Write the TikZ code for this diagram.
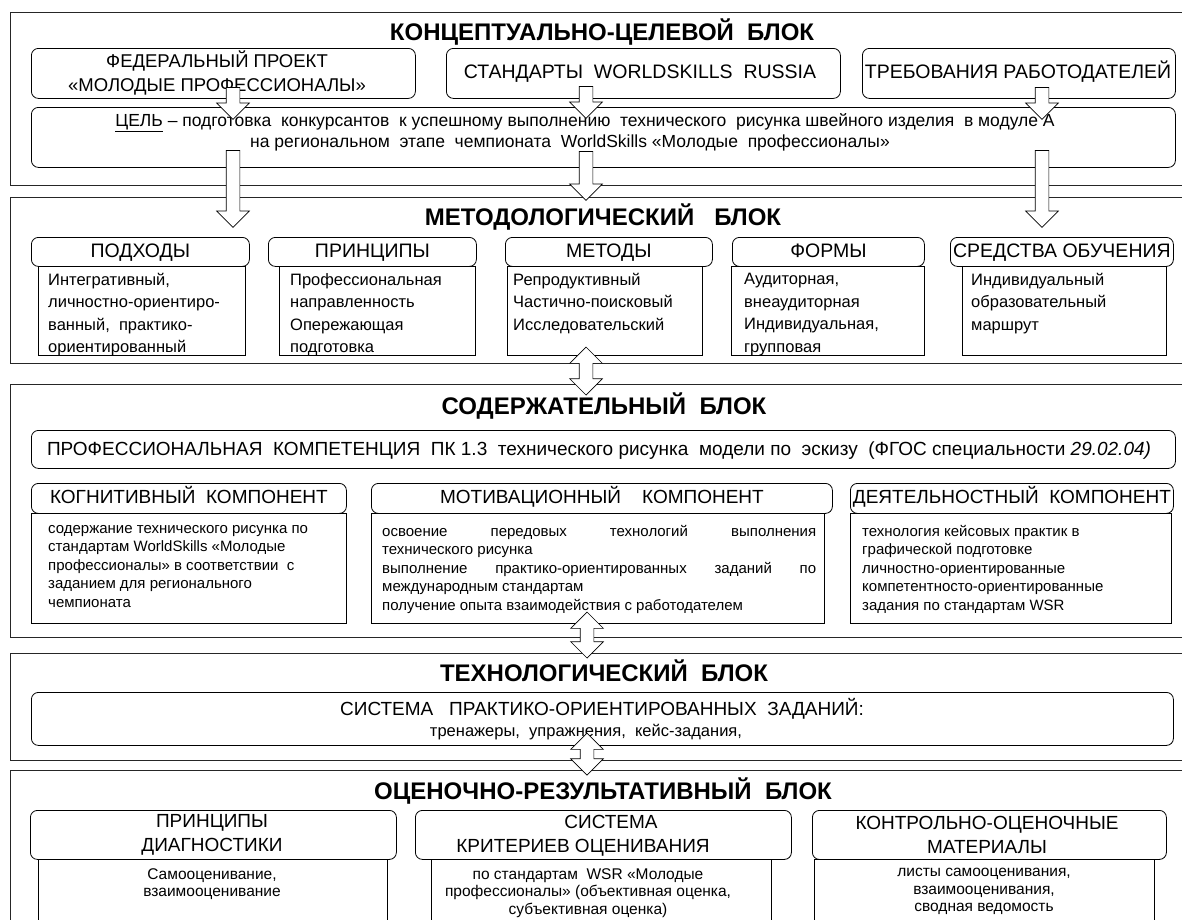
\documentclass[tikz,border=0pt]{standalone}
\usepackage{fontspec}
\setmainfont{Liberation Sans}
\usetikzlibrary{shapes.arrows}
\newcommand\bx[7]{\node[#2, anchor=north west, minimum width={#5-#3}, minimum height={#6-#4}, inner sep=0pt] (#1) at (#3,#4) {#7};}
\newcommand\shaft{\rule{0pt}{13pt}}
\tikzset{
 blk/.style={draw=black!85, line width=1.4pt},
 rbox/.style={draw, line width=0.8pt, rounded corners=7pt, align=center},
 sbox/.style={draw, line width=0.8pt},
 ttl/.style={font=\fontsize{24}{26}\bfseries\selectfont, inner sep=0pt, text height=17pt, text depth=0pt},
 hdr/.style={font=\fontsize{19.5}{24}\selectfont, inner sep=0pt, text height=14pt, text depth=3pt},
 hdrm/.style={font=\fontsize{19}{24}\selectfont, inner sep=0pt, align=center},
 gtxt/.style={font=\fontsize{17.5}{20}\selectfont, inner sep=0pt, text height=12.5pt, text depth=3.5pt},
 btxt/.style={font=\fontsize{16.5}{22.5}\selectfont, inner sep=0pt, align=left, anchor=north west},
 ctxt/.style={font=\fontsize{15}{18.5}\selectfont, inner sep=0pt, align=left, anchor=north west},
 etxt/.style={font=\fontsize{15.5}{17.5}\selectfont, inner sep=0pt, align=center, anchor=north},
 sarr/.style={single arrow, draw, fill=white, line width=0.7pt, rotate=-90, minimum width=32pt, single arrow head extend=9.5pt, inner sep=0pt, single arrow tip angle=90},
 darr/.style={double arrow, draw, fill=white, line width=0.7pt, rotate=-90, minimum width=32pt, double arrow head extend=9.5pt, inner sep=0pt, double arrow tip angle=90},
}
\begin{document}
\begin{tikzpicture}[x=1pt,y=-1pt]
\useasboundingbox (0,0) rectangle (1182,919);
\clip (0,0) rectangle (1182,919);
\fill[white] (0,0) rectangle (1182,919);
% blocks
\bx{B1}{blk}{10}{12}{1195}{185}{}
\bx{B2}{blk}{10}{197}{1195}{363}{}
\bx{B3}{blk}{10}{384}{1195}{637}{}
\bx{B4}{blk}{10}{653}{1195}{760}{}
\bx{B5}{blk}{10}{770}{1195}{935}{}
% titles
\node[ttl] (T1) at (602,32) {КОНЦЕПТУАЛЬНО-ЦЕЛЕВОЙ\ \ БЛОК};
\node[ttl] (T2) at (603,217) {МЕТОДОЛОГИЧЕСКИЙ\ \ \ БЛОК};
\node[ttl] (T3) at (604,406) {СОДЕРЖАТЕЛЬНЫЙ\ \ БЛОК};
\node[ttl] (T4) at (604,673) {ТЕХНОЛОГИЧЕСКИЙ\ \ БЛОК};
\node[ttl] (T5) at (603,791) {ОЦЕНОЧНО-РЕЗУЛЬТАТИВНЫЙ\ \ БЛОК};
% block 1
\bx{fed}{rbox}{31}{48}{415}{98}{}
\node[hdrm, font=\fontsize{18.5}{23.5}\selectfont] (fedt) at (217,73) {ФЕДЕРАЛЬНЫЙ ПРОЕКТ\\«МОЛОДЫЕ ПРОФЕССИОНАЛЫ»};
\bx{std}{rbox}{446}{48}{840}{98}{}
\node[hdr] (stdt) at (640,73) {СТАНДАРТЫ\ \ WORLDSKILLS\ \ RUSSIA};
\bx{req}{rbox}{862}{48}{1175}{98}{}
\node[hdr] (reqt) at (1018,73) {ТРЕБОВАНИЯ РАБОТОДАТЕЛЕЙ};
\bx{goal}{rbox}{31}{107}{1175}{167}{}
\node[gtxt] (g1) at (585,122) {\underline{ЦЕЛЬ} – подготовка\ \ конкурсантов\ \ к успешному выполнению\ \ технического\ \ рисунка швейного изделия\ \ в модуле А};
\node[gtxt] (g2) at (570,143) {на региональном\ \ этапе\ \ чемпионата\ \ WorldSkills «Молодые\ \ профессионалы»};
% block 2
\bx{h1}{rbox}{31}{237}{249}{266}{}
\bx{h2}{rbox}{268}{237}{476}{266}{}
\bx{h3}{rbox}{505}{237}{712}{266}{}
\bx{h4}{rbox}{732}{237}{924}{266}{}
\bx{h5}{rbox}{950}{237}{1173}{266}{}
\node[hdr] (h1t) at (h1) {ПОДХОДЫ};
\node[hdr] (h2t) at (h2) {ПРИНЦИПЫ};
\node[hdr] (h3t) at (h3) {МЕТОДЫ};
\node[hdr] (h4t) at (h4) {ФОРМЫ};
\node[hdr] (h5t) at (h5) {СРЕДСТВА ОБУЧЕНИЯ};
\bx{b1}{sbox}{38}{266}{245}{355}{}
\bx{b2}{sbox}{279}{266}{475}{355}{}
\bx{b3}{sbox}{507}{266}{702}{355}{}
\bx{b4}{sbox}{731}{266}{924}{355}{}
\bx{b5}{sbox}{962}{266}{1166}{355}{}
\node[btxt] (bt1) at (48,273) {Интегративный,\\личностно-ориентиро-\\ванный,\ \ практико-\\ориентированный};
\node[btxt] (bt2) at (290,273) {Профессиональная\\направленность\\Опережающая\\подготовка};
\node[btxt] (bt3) at (513,273) {Репродуктивный\\Частично-поисковый\\Исследовательский};
\node[btxt] (bt4) at (744,273) {Аудиторная,\\внеаудиторная\\Индивидуальная,\\групповая};
\node[btxt] (bt5) at (971,273) {Индивидуальный\\образовательный\\маршрут};
% block 3
\bx{pk}{rbox}{31}{430}{1175}{468}{}
\node[hdr, font=\fontsize{19}{24}\selectfont] (pkt) at (599,450) {ПРОФЕССИОНАЛЬНАЯ\ \ КОМПЕТЕНЦИЯ\ \ ПК 1.3\ \ технического рисунка\ \ модели по\ \ эскизу\ \ (ФГОС специальности \textit{29.02.04)}};
\bx{c1}{rbox}{31}{483}{346}{513}{}
\bx{c2}{rbox}{371}{483}{832}{513}{}
\bx{c3}{rbox}{850}{483}{1173}{513}{}
\node[hdr, font=\fontsize{19}{24}\selectfont] (c1t) at (c1) {КОГНИТИВНЫЙ\ \ КОМПОНЕНТ};
\node[hdr, font=\fontsize{19}{24}\selectfont] (c2t) at (c2) {МОТИВАЦИОННЫЙ\ \ \ \ КОМПОНЕНТ};
\node[hdr, font=\fontsize{19}{24}\selectfont] (c3t) at (c3) {ДЕЯТЕЛЬНОСТНЫЙ\ \ КОМПОНЕНТ};
\bx{cb1}{sbox}{31}{513}{346}{623}{}
\bx{cb2}{sbox}{371}{513}{824}{623}{}
\bx{cb3}{sbox}{850}{513}{1171}{623}{}
\node[ctxt] (ct1) at (48,525) {содержание технического рисунка по\\стандартам WorldSkills «Молодые\\профессионалы» в соответствии\ \ с\\заданием для регионального\\чемпионата};
\node[ctxt] (ct2) at (382,525) {\makebox[434pt][s]{освоение передовых технологий выполнения}\\технического рисунка\\\makebox[434pt][s]{выполнение практико-ориентированных заданий по}\\международным стандартам\\получение опыта взаимодействия с работодателем};
\node[ctxt] (ct3) at (862,525) {технология кейсовых практик в\\графической подготовке\\личностно-ориентированные\\компетентносто-ориентированные\\задания по стандартам WSR};
% block 4
\bx{tech}{rbox}{31}{692}{1173}{745}{}
\node[hdr, font=\fontsize{19}{24}\selectfont] (tt1) at (602,710) {СИСТЕМА\ \ \ ПРАКТИКО-ОРИЕНТИРОВАННЫХ\ \ ЗАДАНИЙ:};
\node[gtxt, font=\fontsize{16.5}{20}\selectfont] (tt2) at (586,732) {тренажеры,\ \ упражнения,\ \ кейс-задания,};
% block 5
\bx{e1}{rbox}{30}{810}{396}{859}{}
\bx{e2}{rbox}{415}{810}{791}{859}{}
\bx{e3}{rbox}{812}{810}{1166}{859}{}
\node[hdrm] (e1t) at (212,835) {ПРИНЦИПЫ\\ДИАГНОСТИКИ};
\node[hdr, font=\fontsize{19}{24}\selectfont] (e2a) at (611,823) {СИСТЕМА};
\node[hdr, font=\fontsize{19}{24}\selectfont] (e2b) at (583,847) {КРИТЕРИЕВ ОЦЕНИВАНИЯ};
\node[hdrm] (e3t) at (987,835) {КОНТРОЛЬНО-ОЦЕНОЧНЫЕ\\МАТЕРИАЛЫ};
\bx{eb1}{sbox}{38}{859}{387}{935}{}
\bx{eb2}{sbox}{431}{859}{771}{935}{}
\bx{eb3}{sbox}{814}{859}{1154}{935}{}
\node[etxt] (et1) at (212,868) {Самооценивание,\\взаимооценивание};
\node[etxt] (et2) at (588,868) {по стандартам\ \ WSR «Молодые\\профессионалы» (объективная оценка,\\субъективная оценка)};
\node[etxt] (et3) at (984,868) {листы самооценивания,\\взаимооценивания,\\сводная ведомость};
% arrows
\node[sarr, minimum height=32pt] (a1) at (233,100) {\shaft};
\node[sarr, minimum height=32pt] (a2) at (586,99) {\shaft};
\node[sarr, minimum height=32pt] (a3) at (1042,100) {\shaft};
\node[sarr, minimum height=77pt] (a4) at (233,185.5) {\shaft};
\node[sarr, minimum height=49pt] (a5) at (586,172.5) {\shaft};
\node[sarr, minimum height=77pt] (a6) at (1042,185.5) {\shaft};
\node[darr, minimum height=48pt] (d1) at (586,371) {\shaft};
\node[darr, minimum height=46pt] (d2) at (587,635) {\shaft};
\node[darr, minimum height=42pt] (d3) at (587,754) {\shaft};
\end{tikzpicture}
\end{document}
